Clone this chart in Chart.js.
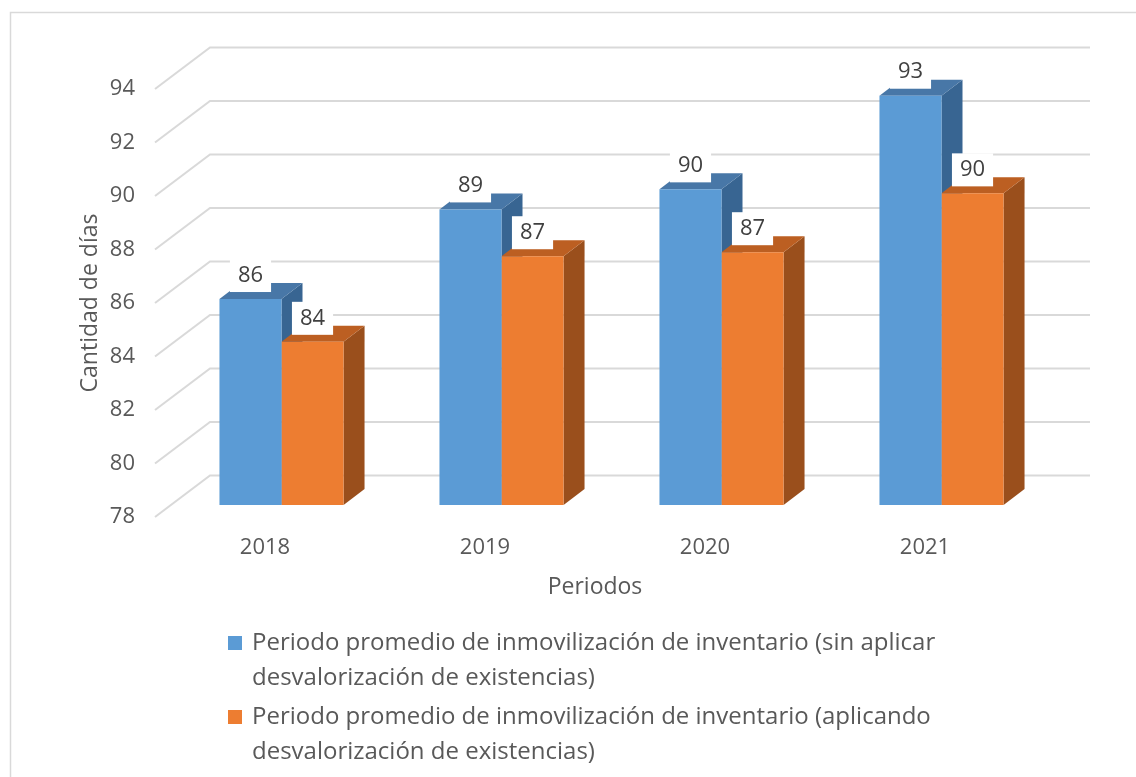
<!DOCTYPE html>
<html>
<head>
<meta charset="utf-8">
<style>
  html, body { margin: 0; padding: 0; background: #fff; }
  #wrap { position: relative; width: 1136px; height: 777px; }
</style>
</head>
<body>
<div id="wrap">
    <canvas id="myChart" width="1136" height="777"></canvas>
</div>

<script src="https://cdn.jsdelivr.net/npm/chart.js"></script>

<script>
    // datos
    const periodos = ['2018', '2019', '2020', '2021'];
    const sinAplicar = [85.7, 89.05, 89.8, 93.3];
    const aplicando = [84.1, 87.3, 87.45, 89.65];
    const nombresSeries = [
        'Periodo promedio de inmovilización de inventario (sin aplicar desvalorización de existencias)',
        'Periodo promedio de inmovilización de inventario (aplicando desvalorización de existencias)'
    ];
    const yMin = 78, yMax = 94, yPaso = 2;

    const FONT = '"Open Sans", sans-serif';
    // profundidad del plano de las barras y de la pared del fondo
    const barShift = {x: 16.5, y: -12};
    const depth = {x: 21, y: -16};
    const wall = {x: 55, y: -41.5};

    const caras = [
        {top: '#4877A7', side: '#386592'},
        {top: '#BC5F22', side: '#9A4F1C'}
    ];

    const fondo = {
        id: 'fondo',
        beforeDraw: (chart) => {
            const {ctx, width, height} = chart;
            ctx.save();
            ctx.fillStyle = 'white';
            ctx.fillRect(0, 0, width, height);
            ctx.strokeStyle = '#D9D9D9';
            ctx.lineWidth = 1.5;
            ctx.strokeRect(10.5, 12.5, width + 20, height + 20);
            ctx.restore();
        }
    };

    const barras3d = {
        id: 'barras3d',
        beforeDatasetsDraw: (chart) => {
            const {ctx, chartArea, scales} = chart;
            const y = scales.y;
            // rejilla en perspectiva
            ctx.save();
            ctx.strokeStyle = '#D9D9D9';
            ctx.lineWidth = 2;
            y.ticks.forEach(t => {
                const py = y.getPixelForValue(t.value);
                ctx.beginPath();
                ctx.moveTo(chartArea.left, py);
                ctx.lineTo(chartArea.left + wall.x, py + wall.y);
                ctx.lineTo(chartArea.right + wall.x, py + wall.y);
                ctx.stroke();
            });
            ctx.restore();

            ctx.save();
            ctx.translate(barShift.x, barShift.y);
            chart.data.datasets.forEach((ds, di) => {
                const meta = chart.getDatasetMeta(di);
                meta.data.forEach(bar => {
                    const p = bar.getProps(['x', 'y', 'base', 'width'], true);
                    const x1 = p.x - p.width / 2, x2 = p.x + p.width / 2;
                    const yt = p.y, yb = p.base;
                    ctx.fillStyle = caras[di].side;
                    ctx.beginPath();
                    ctx.moveTo(x2, yt);
                    ctx.lineTo(x2 + depth.x, yt + depth.y);
                    ctx.lineTo(x2 + depth.x, yb + depth.y);
                    ctx.lineTo(x2, yb);
                    ctx.closePath();
                    ctx.fill();
                    ctx.fillStyle = caras[di].top;
                    ctx.beginPath();
                    ctx.moveTo(x1, yt);
                    ctx.lineTo(x2, yt);
                    ctx.lineTo(x2 + depth.x, yt + depth.y);
                    ctx.lineTo(x1 + depth.x, yt + depth.y);
                    ctx.closePath();
                    ctx.fill();
                });
            });
        },
        afterDatasetsDraw: (chart) => {
            const {ctx} = chart;
            // etiquetas de datos (cajas blancas)
            ctx.font = '22px ' + FONT;
            ctx.textAlign = 'center';
            ctx.textBaseline = 'middle';
            chart.data.datasets.forEach((ds, di) => {
                const meta = chart.getDatasetMeta(di);
                meta.data.forEach((bar, i) => {
                    const p = bar.getProps(['x', 'y'], true);
                    const txt = String(Math.round(ds.data[i]));
                    const w = ctx.measureText(txt).width + 16;
                    const h = 33;
                    const bottom = p.y - 7;
                    ctx.fillStyle = 'white';
                    ctx.fillRect(p.x - w / 2, bottom - h, w, h);
                    ctx.fillStyle = '#404040';
                    ctx.fillText(txt, p.x, bottom - h / 2);
                });
            });
            ctx.restore();
        },
        afterDraw: (chart) => {
            const {ctx} = chart;
            // leyenda
            ctx.save();
            ctx.font = '24px ' + FONT;
            ctx.textAlign = 'left';
            ctx.textBaseline = 'middle';
            const tx = 252, maxW = 760;
            const starts = [643, 717];
            chart.data.datasets.forEach((ds, di) => {
                const words = ds.label.split(' ');
                const lines = [];
                let line = '';
                words.forEach(wd => {
                    const test = line ? line + ' ' + wd : wd;
                    if (ctx.measureText(test).width > maxW && line) {
                        lines.push(line);
                        line = wd;
                    } else {
                        line = test;
                    }
                });
                lines.push(line);
                const y0 = starts[di];
                ctx.fillStyle = ds.backgroundColor;
                ctx.fillRect(228, y0 - 7, 14, 14);
                ctx.fillStyle = '#595959';
                lines.forEach((l, li) => ctx.fillText(l, tx, y0 + li * 35));
            });
            ctx.restore();
        }
    };

    const ctx = document.getElementById('myChart');
    const myChart = new Chart(ctx, {
        type: 'bar',
        data: {
            labels: periodos,
            datasets: [{
                label: nombresSeries[0],
                data: sinAplicar,
                backgroundColor: '#5B9BD5',
                base: yMin,
                barPercentage: 1,
                categoryPercentage: 0.564,
                clip: false
            }, {
                label: nombresSeries[1],
                data: aplicando,
                backgroundColor: '#ED7D31',
                base: yMin,
                barPercentage: 1,
                categoryPercentage: 0.564,
                clip: false
            }]
        },
        options: {
            responsive: false,
            animation: false,
            devicePixelRatio: 1,
            layout: {
                padding: {left: 10, right: 101, top: 89, bottom: 160}
            },
            plugins: {
                legend: {display: false},
                tooltip: {enabled: false}
            },
            scales: {
                x: {
                    grid: {display: false, drawTicks: false},
                    border: {display: false},
                    ticks: {
                        color: '#595959',
                        font: {family: FONT, size: 22},
                        padding: 18,
                        maxRotation: 0
                    },
                    title: {
                        display: true,
                        text: 'Periodos',
                        color: '#595959',
                        font: {family: FONT, size: 23},
                        padding: {top: 0, bottom: 16}
                    },
                    afterFit: (scale) => { scale.height = 100; }
                },
                y: {
                    min: yMin,
                    max: yMax,
                    grid: {display: false, drawTicks: false},
                    border: {display: false},
                    ticks: {
                        stepSize: yPaso,
                        color: '#595959',
                        font: {family: FONT, size: 22},
                        padding: 20
                    },
                    title: {
                        display: true,
                        text: 'Cantidad de días',
                        color: '#595959',
                        font: {family: FONT, size: 23},
                        padding: {top: 67, bottom: 0}
                    },
                    afterFit: (scale) => { scale.width = 145; }
                }
            }
        },
        plugins: [fondo, barras3d]
    });
</script>
</body>
</html>
